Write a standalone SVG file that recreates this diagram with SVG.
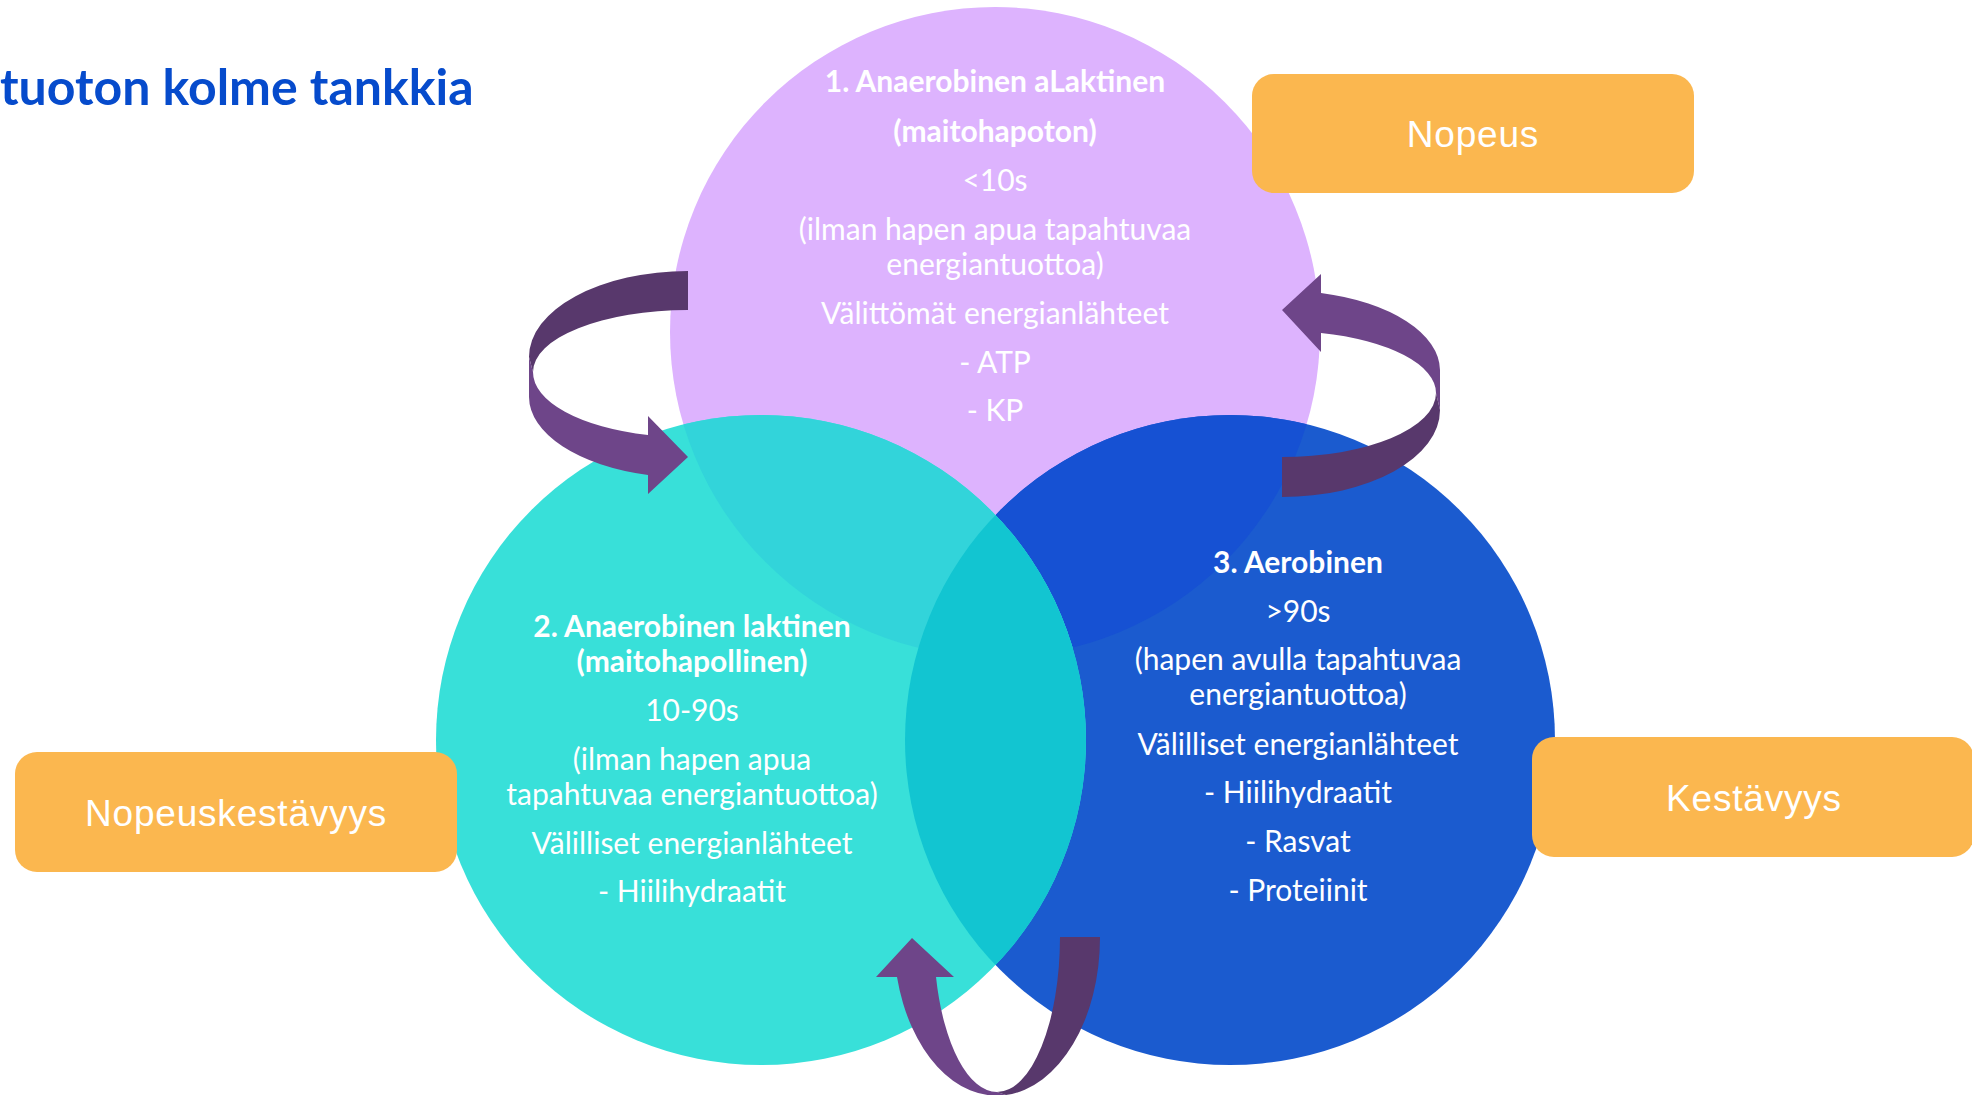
<svg xmlns="http://www.w3.org/2000/svg" width="1972" height="1095" viewBox="0 0 1972 1095">
<style>
.t{font-family:Lato,"Open Sans","Liberation Sans",sans-serif;font-size:30px;fill:#ffffff;text-anchor:middle}
.b{font-weight:bold}
.box{fill:#fbb74f}
.bt{font-family:"Liberation Sans",Arial,sans-serif;font-size:37px;fill:#ffffff;text-anchor:middle;letter-spacing:0.8px}
.dk{fill:#58386c}
.lt{fill:#6e4589}
.title{font-family:Lato,"Open Sans","Liberation Sans",sans-serif;font-size:50px;font-weight:bold;fill:#064bcc}
</style>
<defs>
<clipPath id="c1"><circle cx="995" cy="332" r="325"/></clipPath>
<clipPath id="c2"><circle cx="761" cy="740" r="325"/></clipPath>
</defs>
<rect width="1972" height="1095" fill="#ffffff"/>
<text id="title" class="title" x="0" y="105">tuoton kolme tankkia</text>
<g id="node1">
<circle cx="995" cy="332" r="325" fill="#ddb3fe"/>
<text class="t b" x="995" y="92">1. Anaerobinen aLaktinen</text>
<text class="t b" x="995" y="142">(maitohapoton)</text>
<text class="t" x="995" y="191">&lt;10s</text>
<text class="t" x="995" y="240">(ilman hapen apua tapahtuvaa</text>
<text class="t" x="995" y="275">energiantuottoa)</text>
<text class="t" x="995" y="324">Välittömät energianlähteet</text>
<text class="t" x="995" y="373">- ATP</text>
<text class="t" x="995" y="421">- KP</text>
</g>
<g id="node3">
<circle cx="1230" cy="740" r="325" fill="#1b5bcf"/>
<circle cx="1230" cy="740" r="325" fill="#1651d3" clip-path="url(#c1)"/>
<text class="t b" x="1298" y="573">3. Aerobinen</text>
<text class="t" x="1298" y="622">&gt;90s</text>
<text class="t" x="1298" y="670">(hapen avulla tapahtuvaa</text>
<text class="t" x="1298" y="705">energiantuottoa)</text>
<text class="t" x="1298" y="755">Välilliset energianlähteet</text>
<text class="t" x="1298" y="803">- Hiilihydraatit</text>
<text class="t" x="1298" y="852">- Rasvat</text>
<text class="t" x="1298" y="901">- Proteiinit</text>
</g>
<g id="node2">
<circle cx="761" cy="740" r="325" fill="#38e0d9"/>
<circle cx="761" cy="740" r="325" fill="#32d4da" clip-path="url(#c1)"/>
<circle cx="1230" cy="740" r="325" fill="#12c5d1" clip-path="url(#c2)"/>
<text class="t b" x="692" y="637">2. Anaerobinen laktinen</text>
<text class="t b" x="692" y="672">(maitohapollinen)</text>
<text class="t" x="692" y="721">10-90s</text>
<text class="t" x="692" y="770">(ilman hapen apua</text>
<text class="t" x="692" y="805">tapahtuvaa energiantuottoa)</text>
<text class="t" x="692" y="854">Välilliset energianlähteet</text>
<text class="t" x="692" y="902">- Hiilihydraatit</text>
</g>
<g id="connectors">
<g id="arrow-left">
<path class="dk" d="M 688 271 L 688 310 A 155 62 0 0 0 533 372 L 529 357 A 159 86 0 0 1 688 271 Z"/>
<path class="lt" d="M 529 357 L 529 397 A 159 81 0 0 0 648 475 L 648 494 L 688 457 L 648 416 L 648 435 A 155 65 0 0 1 533 372 Z"/>
</g>
<g id="arrow-right">
<path class="lt" d="M 1282 310 L 1321 274 L 1321 293 A 158 80 0 0 1 1440 370 L 1440 410 L 1436 393 A 154 62 0 0 0 1321 333 L 1321 352 Z"/>
<path class="dk" d="M 1436 393 L 1440 410 A 158 87 0 0 1 1282 497 L 1282 457 A 154 64 0 0 0 1436 393 Z"/>
</g>
<g id="arrow-bottom">
<path class="lt" d="M 912 938 L 954 977 L 936 977 A 63 155 0 0 0 997 1092 L 1006 1095 A 103 158 0 0 1 897 977 L 876 977 Z"/>
<path class="dk" d="M 1060 937 L 1100 937 A 103 158 0 0 1 1006 1095 L 997 1092 A 63 155 0 0 0 1060 937 Z"/>
</g>
</g>
<g id="box-nopeus">
<rect class="box" x="1252" y="74" width="442" height="119" rx="22"/>
<text class="bt" x="1473" y="147">Nopeus</text>
</g>
<g id="box-nopeuskestavyys">
<rect class="box" x="15" y="752" width="442" height="120" rx="22"/>
<text class="bt" x="236" y="826">Nopeuskestävyys</text>
</g>
<g id="box-kestavyys">
<rect class="box" x="1532" y="737" width="442" height="120" rx="22"/>
<text class="bt" x="1754" y="811">Kestävyys</text>
</g>
</svg>
